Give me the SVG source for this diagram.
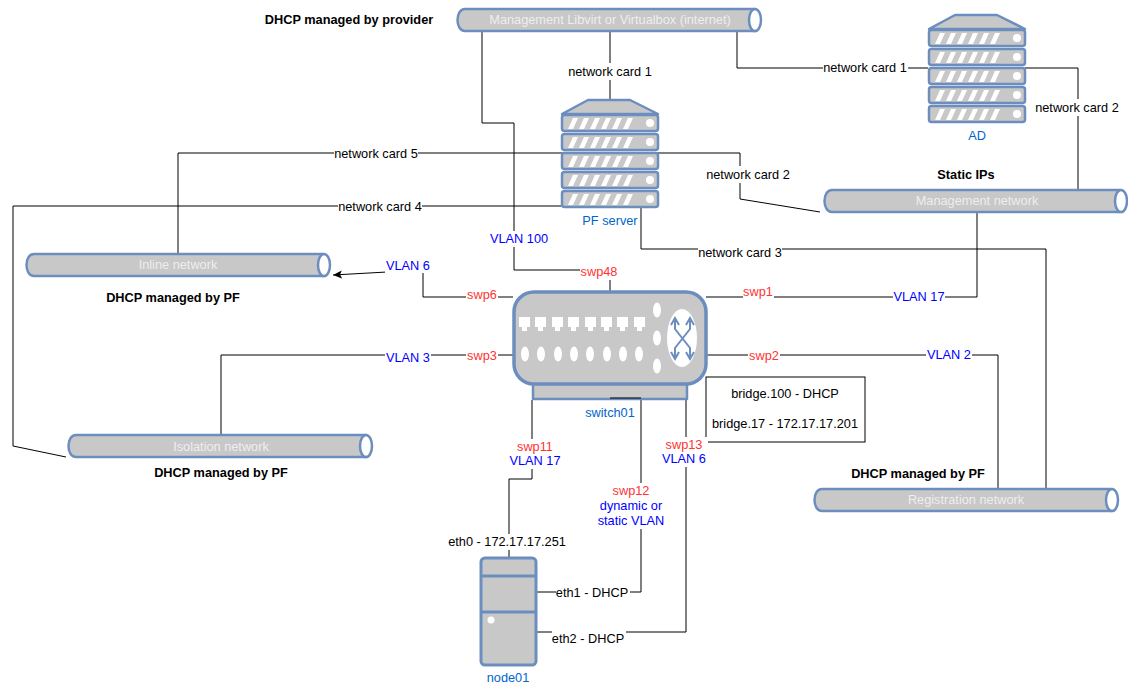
<svg xmlns="http://www.w3.org/2000/svg" width="1128" height="683" viewBox="0 0 1128 683">
<style>
text{font-family:"Liberation Sans",Arial,sans-serif;font-size:12.75px;text-anchor:middle;fill:#000}
.c{fill:none;stroke:#000;stroke-width:1}
.bg{fill:#fff;stroke:none}
.v{fill:#0000ff}.s{fill:#ff3333}.n{fill:#0066cc}.b{font-weight:bold}.w{fill:#eeeeee}
.g{fill:#c8c8c8;stroke:#6c8ebf;stroke-width:2.5;stroke-linejoin:round}
.bar{fill:#c8c8c8;stroke:#6c8ebf;stroke-width:2.5;stroke-linejoin:round}
.e{fill:#fff;stroke:#6c8ebf;stroke-width:2.5}
.wf{fill:#fff;stroke:none}
</style>
<defs>
<marker id="arr" markerUnits="userSpaceOnUse" markerWidth="12" markerHeight="10" refX="9" refY="4.5" orient="auto"><path d="M0 0.5L9 4.5L0 8.5L2 4.5Z" fill="#000"/></marker>
<g id="unit">
<rect x="0" y="0" width="96" height="16" rx="2.5" class="g"/>
<path d="M6 14L11 3h5L11 14ZM17 14L22 3h5L22 14ZM28 14L33 3h5L33 14ZM39 14L44 3h5L44 14ZM50 14L55 3h5L55 14ZM61 14L66 3h5L66 14Z" class="wf"/>
<circle cx="88" cy="8" r="4" class="wf"/>
</g>
<g id="server">
<path d="M1 15L27 1H69L97 15Z" class="g"/>
<use href="#unit" x="1" y="16"/><use href="#unit" x="1" y="35"/><use href="#unit" x="1" y="54"/><use href="#unit" x="1" y="73"/><use href="#unit" x="1" y="92"/>
</g>
</defs>
<rect width="1128" height="683" fill="#fff"/>
<g id="connectors">
<path class="c" d="M482 30V123H514V270H610V292"/>
<path class="c" d="M610 30V99"/>
<path class="c" d="M737 30V68H928"/>
<path class="c" d="M1025 68H1078V190"/>
<path class="c" d="M178 253V153H740V199L820 212"/>
<path class="c" d="M561 206H13V446L66 457"/>
<path class="c" d="M641 208V249H1046V488"/>
<path class="c" d="M977 212V297H706"/>
<path class="c" d="M513 297H423V270L333 275" marker-end="url(#arr)"/>
<path class="c" d="M513 355H221V435"/>
<path class="c" d="M706 355H998V488"/>
<path class="c" d="M532 400V479H509V558"/>
<path class="c" d="M641 398V592H536"/>
<path class="c" d="M686 400V632H536"/>
</g>
<g id="net-mgmt-libvirt">
<path class="bar" d="M465 9H755V31H465C455 31 455 9 465 9Z"/>
<ellipse cx="755" cy="20" rx="6" ry="11" class="e"/>
<text x="610" y="24" class="w">Management Libvirt or Virtualbox (internet)</text>
</g>
<g id="net-management">
<path class="bar" d="M832 190H1120V212H832C822 212 822 190 832 190Z"/>
<ellipse cx="1121" cy="201" rx="6" ry="11" class="e"/>
<text x="977" y="205" class="w">Management network</text>
</g>
<g id="net-inline">
<path class="bar" d="M34 254H324V276H34C24 276 24 254 34 254Z"/>
<ellipse cx="324" cy="265" rx="6" ry="11" class="e"/>
<text x="178" y="269" class="w">Inline network</text>
</g>
<g id="net-isolation">
<path class="bar" d="M76 435H366V457H76C66 457 66 435 76 435Z"/>
<ellipse cx="366" cy="446" rx="6" ry="11" class="e"/>
<text x="221" y="451" class="w">Isolation network</text>
</g>
<g id="net-registration">
<path class="bar" d="M822 489H1111V511H822C812 511 812 489 822 489Z"/>
<ellipse cx="1112" cy="500" rx="6" ry="11" class="e"/>
<text x="966" y="504" class="w">Registration network</text>
</g>
<g id="node-ad">
<use href="#server" x="928" y="14"/>
<text x="977" y="140" class="n">AD</text>
</g>
<g id="node-pf">
<use href="#server" x="561" y="99"/>
<text x="610" y="225" class="n">PF server</text>
</g>
<g id="node-switch">
<rect x="533" y="384" width="154" height="15" class="g"/>
<rect x="514" y="292" width="192" height="92" rx="20" class="g" style="stroke-width:3.5"/>
<path class="wf" d="M519 317h11v10h-3v4h-5v-4h-3ZM535 317h11v10h-3v4h-5v-4h-3ZM552 317h11v10h-3v4h-5v-4h-3ZM568 317h11v10h-3v4h-5v-4h-3ZM585 317h11v10h-3v4h-5v-4h-3ZM601 317h11v10h-3v4h-5v-4h-3ZM617 317h11v10h-3v4h-5v-4h-3ZM634 317h11v10h-3v4h-5v-4h-3Z"/>
<g class="wf"><ellipse cx="525" cy="354" rx="4" ry="7.5"/><ellipse cx="541" cy="354" rx="4" ry="7.5"/><ellipse cx="558" cy="354" rx="4" ry="7.5"/><ellipse cx="574" cy="354" rx="4" ry="7.5"/><ellipse cx="590" cy="354" rx="4" ry="7.5"/><ellipse cx="607" cy="354" rx="4" ry="7.5"/><ellipse cx="623" cy="354" rx="4" ry="7.5"/><ellipse cx="639" cy="354" rx="4" ry="7.5"/>
<ellipse cx="657" cy="310" rx="4" ry="7.5"/><ellipse cx="657" cy="338" rx="4" ry="7.5"/><ellipse cx="657" cy="366" rx="4" ry="7.5"/><ellipse cx="682" cy="338" rx="15" ry="29"/></g>
<path d="M675 319V329L690 348V358M690 319V329L675 348V358M671 325L675 318L679 325M686 325L690 318L694 325M671 352L675 359L679 352M686 352L690 359L694 352" fill="none" stroke="#6c8ebf" stroke-width="2"/>
<path class="c" d="M610 398H641"/>
<text x="610" y="417" class="n">switch01</text>
</g>
<g id="node-node01">
<rect x="481" y="558" width="55" height="107" rx="4" class="g" style="stroke-width:3"/>
<path d="M481 576H536M481 612H536" fill="none" stroke="#6c8ebf" stroke-width="3"/>
<circle cx="491" cy="620" r="3.5" class="wf"/>
<text x="508" y="682" class="n">node01</text>
</g>
<g id="box-bridge">
<rect x="706" y="377" width="159" height="65" fill="#fff" stroke="#000"/>
<text x="785" y="398">bridge.100 - DHCP</text>
<text x="785" y="428">bridge.17 - 172.17.17.201</text>
</g>
<g id="labels">
<rect class="bg" x="567" y="63" width="86" height="17"/><text x="610" y="76">network card 1</text>
<rect class="bg" x="823" y="60" width="85" height="17"/><text x="865" y="72">network card 1</text>
<rect class="bg" x="1035" y="99" width="86" height="17"/><text x="1077" y="112">network card 2</text>
<rect class="bg" x="334" y="145" width="84" height="17"/><text x="376" y="158">network card 5</text>
<rect class="bg" x="706" y="166" width="84" height="17"/><text x="748" y="179">network card 2</text>
<rect class="bg" x="338" y="198" width="84" height="17"/><text x="380" y="211">network card 4</text>
<rect class="bg" x="698" y="244" width="84" height="17"/><text x="740" y="257">network card 3</text>
<rect class="bg" x="490" y="231" width="60" height="16"/><text x="519" y="243" class="v">VLAN 100</text>
<rect class="bg" x="385" y="258" width="46" height="15"/><text x="408" y="270" class="v">VLAN 6</text>
<rect class="bg" x="893" y="289" width="52" height="15"/><text x="919" y="301" class="v">VLAN 17</text>
<rect class="bg" x="385" y="350" width="46" height="15"/><text x="408" y="362" class="v">VLAN 3</text>
<rect class="bg" x="926" y="347" width="46" height="15"/><text x="949" y="359" class="v">VLAN 2</text>
<rect class="bg" x="580" y="265" width="38" height="15"/><text x="599" y="276" class="s">swp48</text>
<rect class="bg" x="466" y="288" width="32" height="15"/><text x="482" y="299" class="s">swp6</text>
<rect class="bg" x="743" y="285" width="31" height="15"/><text x="758" y="296" class="s">swp1</text>
<rect class="bg" x="466" y="349" width="32" height="15"/><text x="482" y="360" class="s">swp3</text>
<rect class="bg" x="748" y="349" width="32" height="15"/><text x="764" y="360" class="s">swp2</text>
<rect class="bg" x="508" y="439" width="54" height="30"/><text x="535" y="451" class="s">swp11</text><text x="535" y="465" class="v">VLAN 17</text>
<rect class="bg" x="660" y="437" width="48" height="30"/><text x="684" y="449" class="s">swp13</text><text x="684" y="463" class="v">VLAN 6</text>
<rect class="bg" x="597" y="483" width="68" height="46"/><text x="631" y="495" class="s">swp12</text><text x="631" y="510" class="v">dynamic or</text><text x="631" y="525" class="v">static VLAN</text>
<rect class="bg" x="449" y="534" width="118" height="16"/><text x="507" y="546">eth0 - 172.17.17.251</text>
<rect class="bg" x="556" y="585" width="74" height="16"/><text x="592" y="597">eth1 - DHCP</text>
<rect class="bg" x="552" y="630" width="74" height="16"/><text x="588" y="643">eth2 - DHCP</text>
<text x="349" y="24" class="b">DHCP managed by provider</text>
<text x="966" y="179" class="b">Static IPs</text>
<text x="173" y="302" class="b">DHCP managed by PF</text>
<text x="221" y="477" class="b">DHCP managed by PF</text>
<text x="918" y="478" class="b">DHCP managed by PF</text>
</g>
</svg>
